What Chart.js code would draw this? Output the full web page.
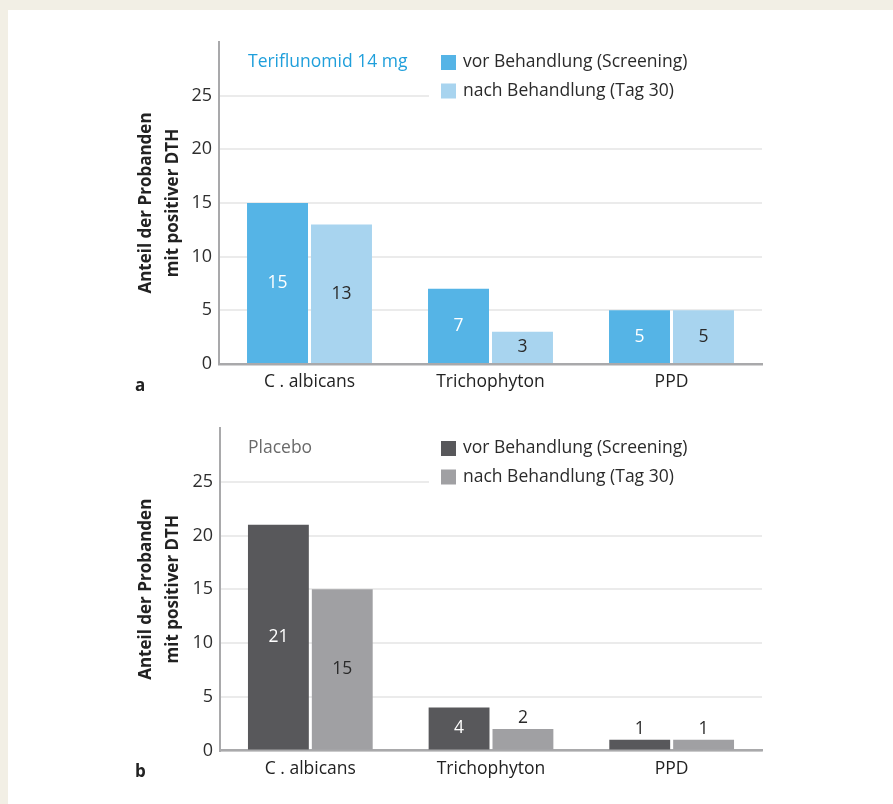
<!DOCTYPE html>
<html lang="de">
<head>
<meta charset="utf-8">
<title>DTH-Reaktion: Teriflunomid vs. Placebo</title>
<script src="https://cdn.jsdelivr.net/npm/chart.js@4.4.1/dist/chart.umd.min.js"></script>
<style>
  html, body { margin: 0; padding: 0; background: #f2efe5; }
  body { width: 893px; height: 804px; position: relative; overflow: hidden; }
  #panel { position: absolute; left: 8px; top: 10px; right: 0; bottom: 0; background: #ffffff; }
  canvas { position: absolute; left: 0; }
  #chartA { top: 0; }
  #chartB { top: 400px; }
</style>
</head>
<body>
<div id="panel"></div>
<canvas id="chartA" width="893" height="400"></canvas>
<canvas id="chartB" width="893" height="404"></canvas>
<script>
// Categories and series
const categories = ['C . albicans', 'Trichophyton', 'PPD'];
const seriesLabels = ['vor Behandlung (Screening)', 'nach Behandlung (Tag 30)'];

const teriBefore = [15, 7, 5];
const teriAfter = [13, 3, 5];

const placeboBefore = [21, 4, 1];
const placeboAfter = [15, 2, 1];

// Y axis: 0..25 labelled, axis runs up to 30
const yMax = 30;
const yStep = 5;
const yLastTick = 25;

const yTitleLines = ['Anteil der Probanden', 'mit positiver DTH'];

const FONT = "'Open Sans', 'Noto Sans', sans-serif";

// Legend, panel title, axis title, panel letter and value labels
const decorPlugin = {
  id: 'decor',
  afterDatasetsDraw(chart, args, opts) {
    const ctx = chart.ctx;
    ctx.save();

    // value labels
    ctx.font = '17.5px ' + FONT;
    ctx.textAlign = 'center';
    ctx.textBaseline = 'middle';
    chart.data.datasets.forEach((ds, di) => {
      const meta = chart.getDatasetMeta(di);
      meta.data.forEach((bar, i) => {
        const v = ds.data[i];
        const h = bar.base - bar.y;
        if (h >= 30) {
          ctx.fillStyle = ds.labelColor;
          ctx.fillText(String(v), bar.x, (bar.y + bar.base) / 2);
        } else {
          ctx.fillStyle = '#2a2a2a';
          ctx.fillText(String(v), bar.x, bar.y - 11);
        }
      });
    });
    ctx.restore();
  },
  afterDraw(chart, args, opts) {
    const ctx = chart.ctx;
    const area = chart.chartArea;
    ctx.save();

    // legend background hides the grid line behind it
    const lx = 441, top = area.top;
    ctx.fillStyle = '#ffffff';
    ctx.fillRect(lx - 12, top + 5, area.right - lx + 14, 58);

    chart.data.datasets.forEach((ds, di) => {
      const by = top + 13 + di * 28.5;
      ctx.fillStyle = ds.backgroundColor;
      ctx.fillRect(lx, by, 15, 15);
      ctx.fillStyle = '#2a2a2a';
      ctx.font = '17.5px ' + FONT;
      ctx.textAlign = 'left';
      ctx.textBaseline = 'middle';
      ctx.fillText(ds.label, lx + 22, by + 7.5);
    });

    // panel title
    ctx.fillStyle = opts.titleColor;
    ctx.font = '17.5px ' + FONT;
    ctx.textAlign = 'left';
    ctx.textBaseline = 'middle';
    ctx.fillText(opts.title, 248, top + 20);

    // y axis title, two rotated lines
    const cy = (area.top + area.bottom) / 2;
    ctx.fillStyle = '#222222';
    ctx.font = 'bold 17px ' + FONT;
    ctx.textAlign = 'center';
    ctx.textBaseline = 'middle';
    [146, 173].forEach((x, k) => {
      ctx.save();
      ctx.translate(x, cy);
      ctx.rotate(-Math.PI / 2);
      ctx.fillText(yTitleLines[k], 0, 0);
      ctx.restore();
    });

    // panel letter
    ctx.font = 'bold 17px ' + FONT;
    ctx.textAlign = 'left';
    ctx.fillText(opts.letter, 135, area.bottom + 22);

    ctx.restore();
  }
};

function makeChart(id, before, after, colors, title, titleColor, letter, geom) {
  return new Chart(document.getElementById(id), {
    type: 'bar',
    data: {
      labels: categories,
      datasets: [
        { label: seriesLabels[0], data: before, backgroundColor: colors[0], labelColor: '#ffffff' },
        { label: seriesLabels[1], data: after, backgroundColor: colors[1], labelColor: '#2a2a2a' }
      ]
    },
    options: {
      responsive: false,
      animation: false,
      devicePixelRatio: 1,
      layout: { padding: { left: 0, top: geom.top, right: 893 - geom.right, bottom: 0 } },
      datasets: { bar: { categoryPercentage: 0.707, barPercentage: 0.953, borderWidth: 0 } },
      plugins: {
        legend: { display: false },
        tooltip: { enabled: false },
        decor: { title: title, titleColor: titleColor, letter: letter }
      },
      scales: {
        x: {
          grid: { display: false, drawTicks: false },
          border: { display: true, color: '#a9a9ab', width: 2.5 },
          ticks: { color: '#222222', font: { family: FONT, size: 17.5 }, padding: 8 },
          afterFit(scale) { scale.height = geom.height - geom.bottom; }
        },
        y: {
          min: 0,
          max: yMax,
          grid: { color: '#ebebeb', lineWidth: 2, drawTicks: false },
          border: { display: true, color: '#a9a9ab', width: 2 },
          ticks: {
            stepSize: yStep,
            color: '#2e2e2e',
            font: { family: FONT, size: 18 },
            padding: 7
          },
          afterBuildTicks(scale) {
            scale.ticks = scale.ticks.filter(t => t.value <= yLastTick);
          },
          afterFit(scale) { scale.width = geom.left; }
        }
      }
    },
    plugins: [decorPlugin]
  });
}

makeChart('chartA', teriBefore, teriAfter, ['#55b4e6', '#a8d4ef'],
  'Teriflunomid 14 mg', '#1f9fdb', 'a',
  { left: 219, right: 762, top: 42, bottom: 364, height: 400 });

makeChart('chartB', placeboBefore, placeboAfter, ['#58585b', '#a0a0a3'],
  'Placebo', '#6a6a6a', 'b',
  { left: 220, right: 762, top: 28, bottom: 350.5, height: 404 });
</script>
</body>
</html>
